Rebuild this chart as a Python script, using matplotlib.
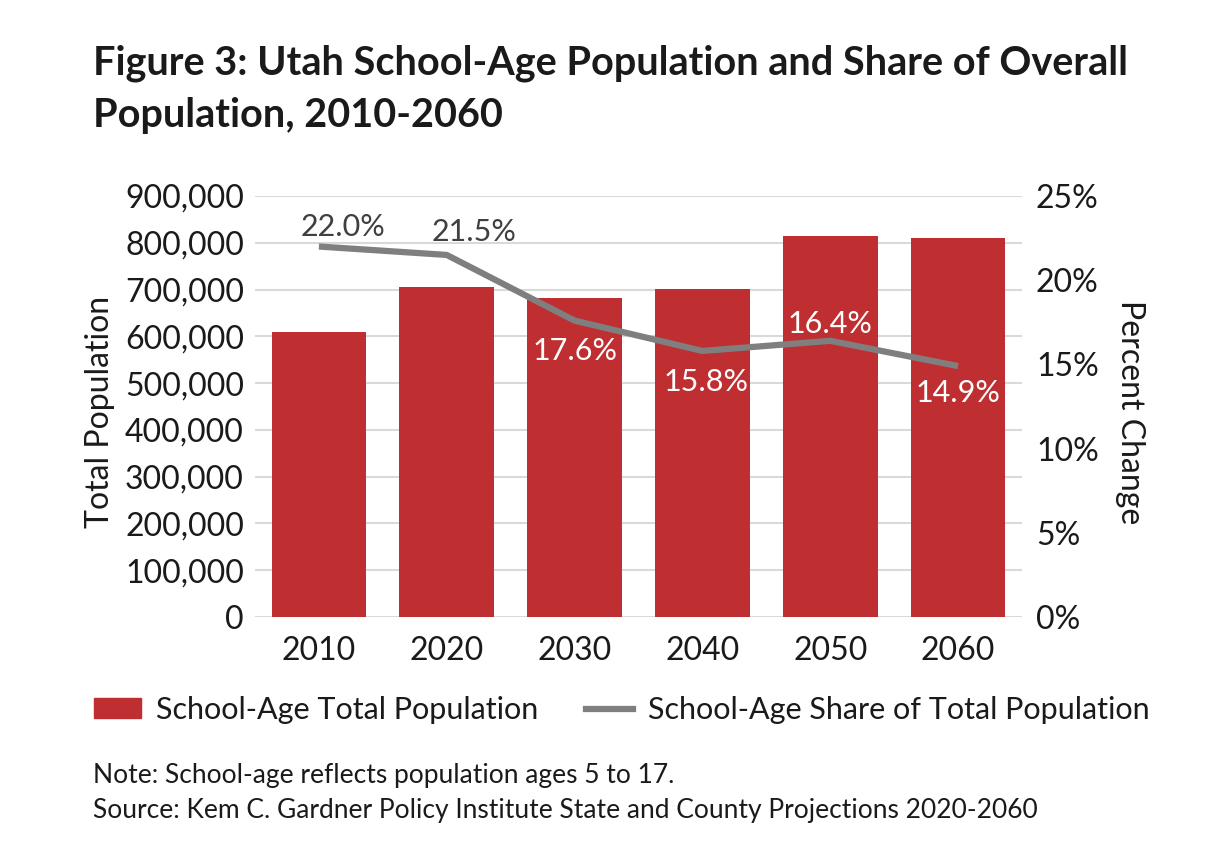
import matplotlib.pyplot as plt
from matplotlib.patches import Patch
from matplotlib.lines import Line2D

years = ["2010", "2020", "2030", "2040", "2050", "2060"]
population = [609000, 705000, 681000, 702000, 815000, 811000]
share = [22.0, 21.5, 17.6, 15.8, 16.4, 14.9]
share_labels = ["22.0%", "21.5%", "17.6%", "15.8%", "16.4%", "14.9%"]

bar_color = "#BF2F32"
line_color = "#7F7F7F"
text_color = "#1A1A1A"

plt.rcParams["font.family"] = ["Lato", "DejaVu Sans"]

fig = plt.figure(figsize=(12.28, 8.47), dpi=100)
ax = fig.add_axes([255 / 1228, 1 - 617 / 847, (1022 - 255) / 1228, (617 - 196) / 847])

x = list(range(len(years)))
ax.bar(x, population, width=0.74, color=bar_color, zorder=2)
ax.set_ylim(0, 900000)
ax.set_xlim(-0.5, len(years) - 0.5)
ax.set_yticks(range(0, 900001, 100000))
ax.set_yticklabels([f"{v:,}" for v in range(0, 900001, 100000)])
ax.set_xticks(x)
ax.set_xticklabels(years)
ax.grid(axis="y", color="#D9D9D9", linewidth=1.5, zorder=0)
ax.set_axisbelow(True)
for s in ax.spines.values():
    s.set_visible(False)
ax.tick_params(axis="y", length=0, pad=8, labelsize=23, labelcolor=text_color)
ax.tick_params(axis="x", length=0, pad=14, labelsize=23, labelcolor=text_color)

ax2 = ax.twinx()
ax2.plot(x, share, color=line_color, linewidth=4.5, solid_capstyle="butt", zorder=3)
ax2.set_ylim(0, 25)
ax2.set_yticks([0, 5, 10, 15, 20, 25])
ax2.set_yticklabels(["0%", "5%", "10%", "15%", "20%", "25%"])
for s in ax2.spines.values():
    s.set_visible(False)
ax2.tick_params(axis="y", length=0, pad=10, labelsize=23, labelcolor=text_color)

# data labels: (dx, dy) in pixels, colour
offsets = [(24, 20, "#404040"), (27, 23, "#404040"), (0, -30, "white"),
           (4, -31, "white"), (0, 17, "white"), (0, -27, "white")]
for i, (dx, dy, c) in enumerate(offsets):
    ax2.annotate(share_labels[i], (x[i], share[i]), xytext=(dx, dy),
                 textcoords="offset pixels", ha="center", va="center",
                 fontsize=22, color=c, zorder=4)

fig.text(100 / 1228, 1 - 412 / 847, "Total Population", rotation=90,
         ha="center", va="center", fontsize=23, color=text_color)
fig.text(1130 / 1228, 1 - 412 / 847, "Percent Change", rotation=270,
         ha="center", va="center", fontsize=23, color=text_color)

fig.text(93 / 1228, 1 - 44 / 847,
         "Figure 3: Utah School-Age Population and Share of Overall\nPopulation, 2010-2060",
         ha="left", va="top", fontsize=28.5, fontweight="bold", color=text_color,
         linespacing=1.5)

handles = [Patch(color=bar_color), Line2D([0], [0], color=line_color, linewidth=4.5)]
fig.legend(handles, ["School-Age Total Population", "School-Age Share of Total Population"],
           loc="center left", bbox_to_anchor=(66 / 1228, 1 - 710 / 847), ncol=2,
           frameon=False, fontsize=22, handlelength=1.55, handleheight=0.65,
           handletextpad=0.5, columnspacing=1.55, labelcolor=text_color)

fig.text(93 / 1228, 1 - 775 / 847, "Note: School-age reflects population ages 5 to 17.",
         ha="left", va="center", fontsize=19, color=text_color)
fig.text(93 / 1228, 1 - 810 / 847,
         "Source: Kem C. Gardner Policy Institute State and County Projections 2020-2060",
         ha="left", va="center", fontsize=19, color=text_color)

fig.savefig("out.png", dpi=100)
plt.close()
